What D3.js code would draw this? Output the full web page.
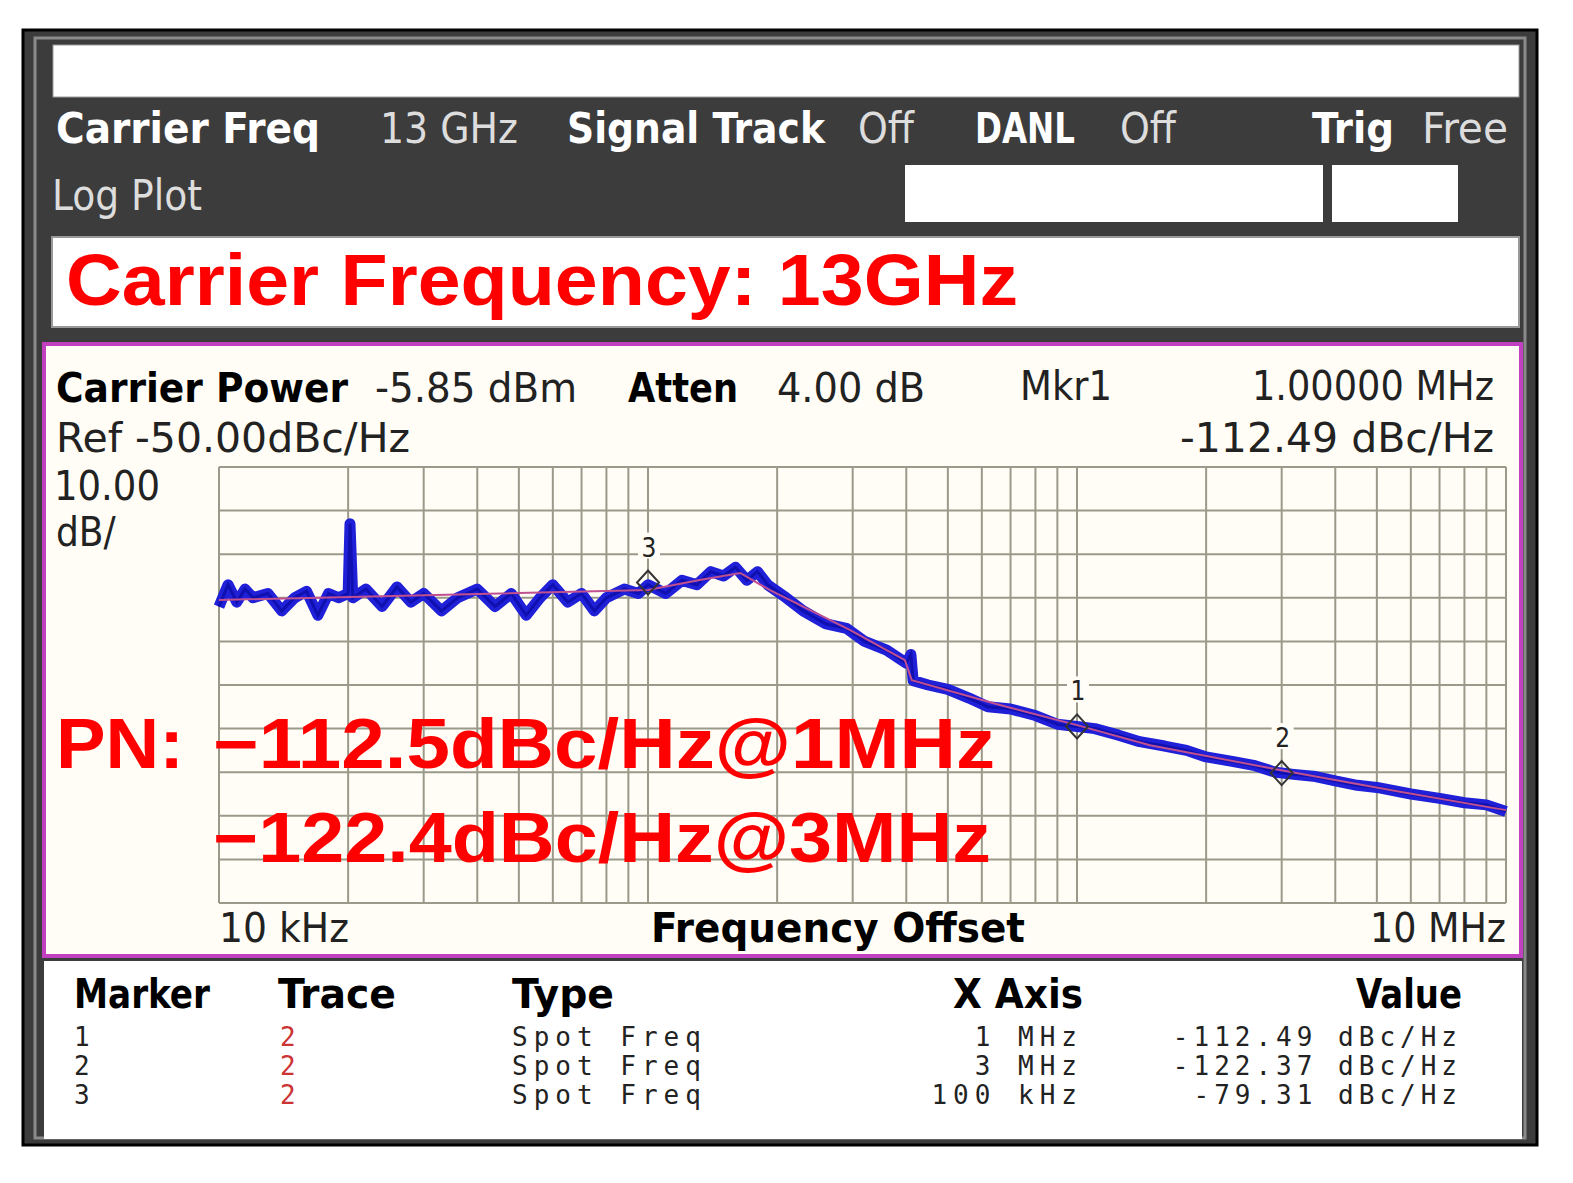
<!DOCTYPE html>
<html><head><meta charset="utf-8">
<script src="https://cdn.jsdelivr.net/npm/d3@7"></script>
<style>body{margin:0;background:#fff}</style></head>
<body><svg id="c" width="1573" height="1183"></svg>
<script>
// ---- data ----
const traceFreqKHz = [10,10.5,11,11.5,12,13,14,15,16,17,18,19,20,20.2,20.5,22,24,26,28,30,33,36,40,44,48,52,56,60,65,70,75,80,88,95,100,110,120,130,140,150,160,170,180,190,210,230,260,290,320,360,400,410,415,450,500,560,620,700,800,900,1000,1100,1250,1400,1600,1800,2000,2300,2600,2900,3200,3600,4000,4500,5000,6000,7000,8000,9000,10000];
const traceDb = [-82,-77,-81,-78,-80,-79,-83,-80,-78.5,-84,-79,-80,-79,-63,-80,-78,-82,-77.5,-81,-79,-83,-80,-78,-82,-79,-84,-80,-77,-81,-79,-83,-80,-78,-79,-77,-79,-76,-77,-74,-75,-73,-76,-74,-77,-80,-83,-86,-87,-90,-92,-95,-93,-99,-100,-101,-103,-105,-105.5,-107,-109,-109.5,-110,-111.5,-113,-114,-115,-116.5,-117.5,-118.5,-120,-120.5,-121,-122,-123,-123.5,-125,-126,-127,-127.5,-129];
const smoothFreqKHz = [10,100,132,164,192,296,397,412,661,1000,1480,2970,5660,10000];
const smoothDb = [-80.5,-78.2,-75.9,-74.3,-78.2,-87.4,-94.3,-98.9,-104.6,-109.2,-113.8,-119.5,-124.5,-128.7];
const markerIds = ["1","2","3"];
const markerFreqKHz = [1000,3000,100];
const markerPlotDb = [-109.5,-120.2,-76.5];
const markerXLabels = ["1 MHz","3 MHz","100 kHz"];
const markerValues = ["-112.49 dBc/Hz","-122.37 dBc/Hz","-79.31 dBc/Hz"];

const svg = d3.select("#c");
const cond = "'DejaVu Sans Condensed','DejaVu Sans',sans-serif";
const mono = "'DejaVu Sans Mono',monospace";
svg.append("rect").attr("x",23).attr("y",30).attr("width",1514).attr("height",1115).attr("fill","#3c3c3c").attr("stroke","#000").attr("stroke-width",3);
svg.append("rect").attr("x",35).attr("y",38).attr("width",1490).attr("height",1100).attr("fill","none").attr("stroke","#8a8a8a").attr("stroke-width",3);
svg.append("rect").attr("x",53).attr("y",45).attr("width",1466).attr("height",52).attr("fill","#fff").attr("stroke","#999");
svg.append("rect").attr("x",905).attr("y",165).attr("width",418).attr("height",57).attr("fill","#fff");
svg.append("rect").attr("x",1332).attr("y",165).attr("width",126).attr("height",57).attr("fill","#fff");
svg.append("rect").attr("x",52).attr("y",237).attr("width",1467).attr("height",90).attr("fill","#fff").attr("stroke","#999").attr("stroke-width",2);
svg.append("rect").attr("x",44).attr("y",344).attr("width",1477).attr("height",612).attr("fill","#fffdf6").attr("stroke","#c040c0").attr("stroke-width",4);
svg.append("rect").attr("x",44).attr("y",961).attr("width",1478).attr("height",178).attr("fill","#fff");

function txt(x,y,s,size,col,fam,wt,anchor){return svg.append("text").attr("x",x).attr("y",y).text(s).attr("font-size",size).attr("fill",col).attr("font-family",fam).attr("font-weight",wt||"normal").attr("text-anchor",anchor||"start").attr("lengthAdjust","spacingAndGlyphs");}
txt(56,143,"Carrier Freq",42,"#fff",cond,"bold").attr("textLength",264);
txt(380,143,"13 GHz",42,"#ddd",cond).attr("textLength",138);
txt(567,143,"Signal Track",42,"#fff",cond,"bold").attr("textLength",258);
txt(858,143,"Off",42,"#ddd",cond).attr("textLength",56);
txt(975,143,"DANL",42,"#fff",cond,"bold").attr("textLength",100);
txt(1120,143,"Off",42,"#ddd",cond).attr("textLength",56);
txt(1312,143,"Trig",42,"#fff",cond,"bold").attr("textLength",82);
txt(1422,143,"Free",42,"#ddd",cond).attr("textLength",86);
txt(52,210,"Log Plot",42,"#ddd",cond).attr("textLength",150);
txt(66,305,"Carrier Frequency: 13GHz",72,"#f00","'Liberation Sans',Arial,sans-serif","bold").attr("textLength",952);
txt(56,402,"Carrier Power",40,"#000",cond,"bold").attr("textLength",292);
txt(375,402,"-5.85 dBm",40,"#222",cond).attr("textLength",202);
txt(628,402,"Atten",40,"#000",cond,"bold").attr("textLength",110);
txt(777,402,"4.00 dB",40,"#222",cond).attr("textLength",148);
txt(1020,400,"Mkr1",40,"#222",cond).attr("textLength",92);
txt(1494,400,"1.00000 MHz",40,"#222",cond,"normal","end").attr("textLength",242);
txt(56,452,"Ref -50.00dBc/Hz",40,"#222",cond).attr("textLength",354);
txt(1494,452,"-112.49 dBc/Hz",40,"#222",cond,"normal","end").attr("textLength",314);
txt(54,500,"10.00",40,"#222",cond).attr("textLength",106);
txt(56,546,"dB/",40,"#222",cond);

const x = d3.scaleLog().domain([10,10000]).range([219,1506]);
const y = d3.scaleLinear().domain([-150,-50]).range([903,467]);
const g = svg.append("g");
const ticks=[];[10,100,1000].forEach(d=>{for(let k=1;k<=10;k++)ticks.push(d*k);});
g.selectAll(".vx").data(Array.from(new Set(ticks))).join("line").attr("x1",d=>x(d)).attr("x2",d=>x(d)).attr("y1",467).attr("y2",903).attr("stroke","#9a9a8a").attr("stroke-width",2);
g.selectAll(".hy").data(d3.range(-150,-49,10)).join("line").attr("x1",219).attr("x2",1506).attr("y1",d=>y(d)).attr("y2",d=>y(d)).attr("stroke","#9a9a8a").attr("stroke-width",2);
const tr = traceFreqKHz.map((f,i)=>[f,traceDb[i]]);
const line = d3.line().x(d=>x(d[0])).y(d=>y(d[1]));
g.append("path").attr("d",line(tr)).attr("fill","none").attr("stroke","#2020d8").attr("stroke-width",11).attr("stroke-linejoin","round");
g.append("path").attr("d",line(tr)).attr("fill","none").attr("stroke","#1010b0").attr("stroke-width",3);
g.append("path").attr("d",line(smoothFreqKHz.map((f,i)=>[f,smoothDb[i]]))).attr("fill","none").attr("stroke","#c05090").attr("stroke-width",2);
markerIds.forEach((m,i)=>{
  const cx=x(markerFreqKHz[i]), cy=y(markerPlotDb[i]);
  g.append("path").attr("d",`M${cx},${cy-12}L${cx+11},${cy}L${cx},${cy+12}L${cx-11},${cy}Z`).attr("fill","none").attr("stroke","#333").attr("stroke-width",2);
  g.append("rect").attr("x",cx-10).attr("y",cy-50).attr("width",22).attr("height",26).attr("fill","#fffdf6");
  txt(cx+1,cy-26,m,26,"#222",cond,"normal","middle");
});
txt(219,942,"10 kHz",40,"#222",cond).attr("textLength",130);
txt(838,942,"Frequency Offset",40,"#000",cond,"bold","middle").attr("textLength",374);
txt(1506,942,"10 MHz",40,"#222",cond,"normal","end").attr("textLength",136);
const rf="'Liberation Sans',Arial,sans-serif";
txt(56,768,"PN:",70,"#f00",rf,"bold").attr("textLength",128);
txt(213,768,"\u2212112.5dBc/Hz@1MHz",70,"#f00",rf,"bold").attr("textLength",782);
txt(213,862,"\u2212122.4dBc/Hz@3MHz",70,"#f00",rf,"bold").attr("textLength",778);

txt(74,1008,"Marker",40,"#000",cond,"bold").attr("textLength",136);
txt(278,1008,"Trace",40,"#000",cond,"bold").attr("textLength",118);
txt(512,1008,"Type",40,"#000",cond,"bold").attr("textLength",102);
txt(1083,1008,"X Axis",40,"#000",cond,"bold","end").attr("textLength",130);
txt(1462,1008,"Value",40,"#000",cond,"bold","end").attr("textLength",106);
markerIds.forEach((m,i)=>{
  const yy=1046+i*29;
  txt(74,yy,m,26,"#222",mono);
  txt(280,yy,"2",26,"#c33",mono);
  txt(512,yy,"Spot Freq",26,"#222",mono).attr("letter-spacing",6);
  txt(1083,yy,markerXLabels[i],26,"#222",mono,"normal","end").attr("letter-spacing",6);
  txt(1462,yy,markerValues[i],26,"#222",mono,"normal","end").attr("letter-spacing",5);
});
</script></body></html>
